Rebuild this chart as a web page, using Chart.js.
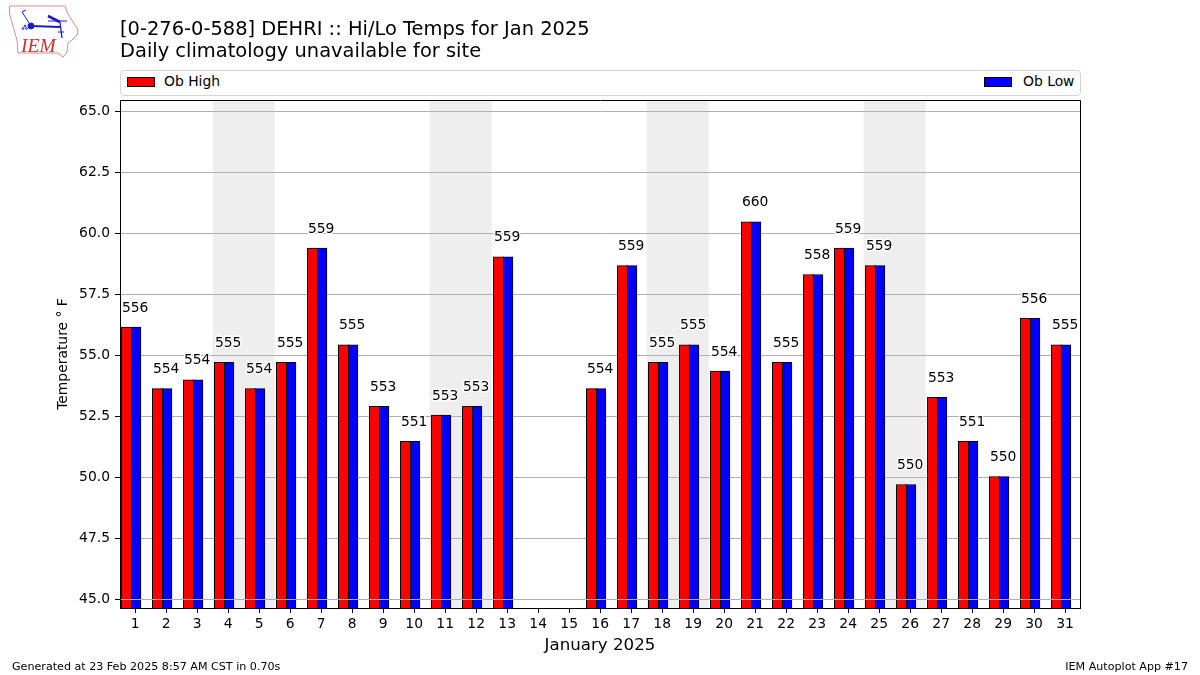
<!DOCTYPE html>
<html>
<head>
<meta charset="utf-8">
<title>DEHRI Hi/Lo Temps</title>
<script src="https://cdn.jsdelivr.net/npm/chart.js@4"></script>
<style>
  body { margin: 0; background: #fff; font-family: "DejaVu Sans", sans-serif; color: #000; }
  #page { position: relative; width: 1200px; height: 675px; overflow: hidden; }
  #chart { position: absolute; left: 0; top: 0; }
  .abs { position: absolute; white-space: nowrap; }
  .title { left: 120px; font-size: 19.44px; line-height: 22px; }
  .foot { top: 660px; font-size: 11.11px; line-height: 13px; }
  #legend { left: 120px; top: 70px; width: 959px; height: 24px; border: 1px solid #d5d5d5; border-radius: 4px; background: #fff; }
  .swatch { position: absolute; top: 6px; width: 26px; height: 8px; border: 1px solid #000; box-sizing: content-box; }
  .entry { position: absolute; top: 2px; font-size: 13.89px; line-height: 17px; }
</style>
</head>
<body>
<div id="page">
  <canvas id="chart" width="1200" height="675"></canvas>
  <svg class="abs" style="left:0;top:0" width="90" height="65" viewBox="0 0 90 65">
    <polygon points="9.5,6 65,6 67,12 70,17 78,30 77,35 72,40 68,43 67,52 63,57 58,53 18,53 17,40 12,23 9.5,13" fill="none" stroke="#e08a8a" stroke-width="1"/>
    <g stroke="#1a1ad0" fill="none">
      <line x1="31" y1="26" x2="60" y2="27" stroke-width="2"/>
      <circle cx="31" cy="26" r="3" fill="#1a1ad0"/>
      <line x1="31" y1="26" x2="22" y2="12" stroke-width="1"/>
      <line x1="22" y1="12" x2="26" y2="10" stroke-width="1"/>
      <line x1="48" y1="16" x2="60" y2="22" stroke-width="2.6"/>
      <line x1="48" y1="21" x2="67" y2="21" stroke-width="1"/>
      <line x1="60" y1="22" x2="62" y2="38" stroke-width="1.2"/>
      <line x1="58" y1="32" x2="64" y2="32" stroke-width="1"/>
      <circle cx="25" cy="26" r="0.9"/>
      <circle cx="23" cy="28.5" r="0.9"/>
      <circle cx="26.5" cy="28.5" r="0.9"/>
    </g>
    <text x="21" y="52" font-family="Liberation Serif" font-style="italic" font-size="19.5" fill="#d03030">IEM</text>
  </svg>
  <div class="abs title" style="top:18px">[0-276-0-588] DEHRI :: Hi/Lo Temps for Jan 2025</div>
  <div class="abs title" style="top:40px">Daily climatology unavailable for site</div>
  <div class="abs" id="legend">
    <span class="swatch" style="left:5.5px;background:#ff0000"></span>
    <span class="entry" style="left:43px">Ob High</span>
    <span class="swatch" style="left:863px;background:#0000ff"></span>
    <span class="entry" style="left:902px">Ob Low</span>
  </div>
  <div class="abs foot" style="left:12px">Generated at 23 Feb 2025 8:57 AM CST in 0.70s</div>
  <div class="abs foot" style="right:12px">IEM Autoplot App #17</div>
</div>
<script>
const days = [1, 2, 3, 4, 5, 6, 7, 8, 9, 10, 11, 12, 13, 14, 15, 16, 17, 18, 19, 20, 21, 22, 23, 24, 25, 26, 27, 28, 29, 30, 31];
const obHigh = [56.15, 53.63, 53.99, 54.71, 53.63, 54.71, 59.39, 55.43, 52.91, 51.47, 52.55, 52.91, 59.03, null, null, 53.63, 58.67, 54.71, 55.43, 54.35, 60.47, 54.71, 58.31, 59.39, 58.67, 49.7, 53.27, 51.47, 50.03, 56.51, 55.43];
const obLow = [56.15, 53.63, 53.99, 54.71, 53.63, 54.71, 59.39, 55.43, 52.91, 51.47, 52.55, 52.91, 59.03, null, null, 53.63, 58.67, 54.71, 55.43, 54.35, 60.47, 54.71, 58.31, 59.39, 58.67, 49.7, 53.27, 51.47, 50.03, 56.51, 55.43];
const barLabels = ['556', '554', '554', '555', '554', '555', '559', '555', '553', '551', '553', '553', '559', '', '', '554', '559', '555', '555', '554', '660', '555', '558', '559', '559', '550', '553', '551', '550', '556', '555'];
const yTicks = [45, 47.5, 50, 52.5, 55, 57.5, 60, 62.5, 65];
const weekendStarts = [4, 11, 18, 25];

Chart.defaults.font.family = '"DejaVu Sans", sans-serif';
Chart.defaults.color = '#000';

// bars sit left of the tick, same as the original plot
function barPoints(values, offset) {
  return days
    .map((d, i) => ({ x: d + offset, y: values[i] }))
    .filter(p => p.y !== null);
}

const plotDecor = {
  id: 'plotDecor',
  beforeDraw(chart) {
    const { ctx, chartArea, scales } = chart;
    ctx.save();
    ctx.fillStyle = '#eeeeee';
    weekendStarts.forEach(d => {
      const x0 = scales.x.getPixelForValue(d - 0.5);
      const x1 = scales.x.getPixelForValue(d + 1.5);
      ctx.fillRect(x0, chartArea.top, x1 - x0, chartArea.bottom - chartArea.top);
    });
    ctx.restore();
  },
  afterDatasetsDraw(chart) {
    const { ctx, chartArea, scales } = chart;
    ctx.save();

    // value labels with a white halo
    ctx.font = '13.89px "DejaVu Sans"';
    ctx.textAlign = 'center';
    ctx.textBaseline = 'middle';
    ctx.lineJoin = 'round';
    ctx.lineWidth = 2.8;
    ctx.strokeStyle = '#ffffff';
    ctx.fillStyle = '#000000';
    days.forEach((d, i) => {
      if (obHigh[i] === null) return;
      const x = scales.x.getPixelForValue(d);
      const y = scales.y.getPixelForValue(obHigh[i]) - 19;
      ctx.strokeText(barLabels[i], x, y);
      ctx.fillText(barLabels[i], x, y);
    });

    // the lowest grid line shows over the bars
    const y45 = Math.round(scales.y.getPixelForValue(yTicks[0])) + 0.5;
    ctx.strokeStyle = '#b0b0b0';
    ctx.lineWidth = 1;
    ctx.beginPath();
    ctx.moveTo(chartArea.left, y45);
    ctx.lineTo(chartArea.right, y45);
    ctx.stroke();

    // frame
    ctx.strokeStyle = '#000000';
    ctx.strokeRect(chartArea.left + 0.5, chartArea.top + 0.5, chartArea.right - chartArea.left, chartArea.bottom - chartArea.top);
    ctx.restore();
  }
};

new Chart(document.getElementById('chart').getContext('2d'), {
  type: 'bar',
  data: {
    datasets: [{
      label: 'Ob High',
      data: barPoints(obHigh, -0.28),
      backgroundColor: '#ff0000',
      borderColor: '#000000',
      borderWidth: 1,
      borderSkipped: false,
      barThickness: 10.3,
      grouped: false
    }, {
      label: 'Ob Low',
      data: barPoints(obLow, 0.02),
      backgroundColor: '#0000ff',
      borderColor: '#000000',
      borderWidth: 1,
      borderSkipped: false,
      barThickness: 10.3,
      grouped: false
    }]
  },
  options: {
    responsive: false,
    animation: false,
    layout: { padding: { top: 100, right: 120, left: 0, bottom: 0 } },
    plugins: {
      legend: { display: false },
      title: { display: false },
      tooltip: { enabled: false }
    },
    scales: {
      x: {
        type: 'linear',
        offset: false,
        min: 0.51,
        max: 31.48,
        afterBuildTicks: (scale) => { scale.ticks = days.map(d => ({ value: d })); },
        afterFit: (scale) => { scale.height = 67; },
        grid: { offset: false, drawOnChartArea: false, tickLength: 5, tickColor: '#000000' },
        border: { color: '#000000' },
        ticks: {
          autoSkip: false,
          maxRotation: 0,
          padding: 3,
          color: '#000000',
          font: { size: 13.89 },
          callback: (value) => String(value)
        },
        title: {
          display: true,
          text: 'January 2025',
          color: '#000000',
          font: { size: 16.67 },
          padding: { top: 0, bottom: 19 }
        }
      },
      y: {
        min: 44.64,
        max: 65.46,
        afterBuildTicks: (scale) => { scale.ticks = yTicks.map(v => ({ value: v })); },
        afterFit: (scale) => { scale.width = 120; },
        grid: { color: '#b0b0b0', lineWidth: 1, tickLength: 5, tickColor: '#000000' },
        border: { color: '#000000' },
        ticks: {
          padding: 5,
          color: '#000000',
          font: { size: 13.89 },
          callback: (value) => value.toFixed(1)
        },
        title: {
          display: true,
          text: 'Temperature ° F',
          color: '#000000',
          font: { size: 13.89 },
          padding: { top: 55, bottom: 0 }
        }
      }
    }
  },
  plugins: [plotDecor]
});
</script>
</body>
</html>
